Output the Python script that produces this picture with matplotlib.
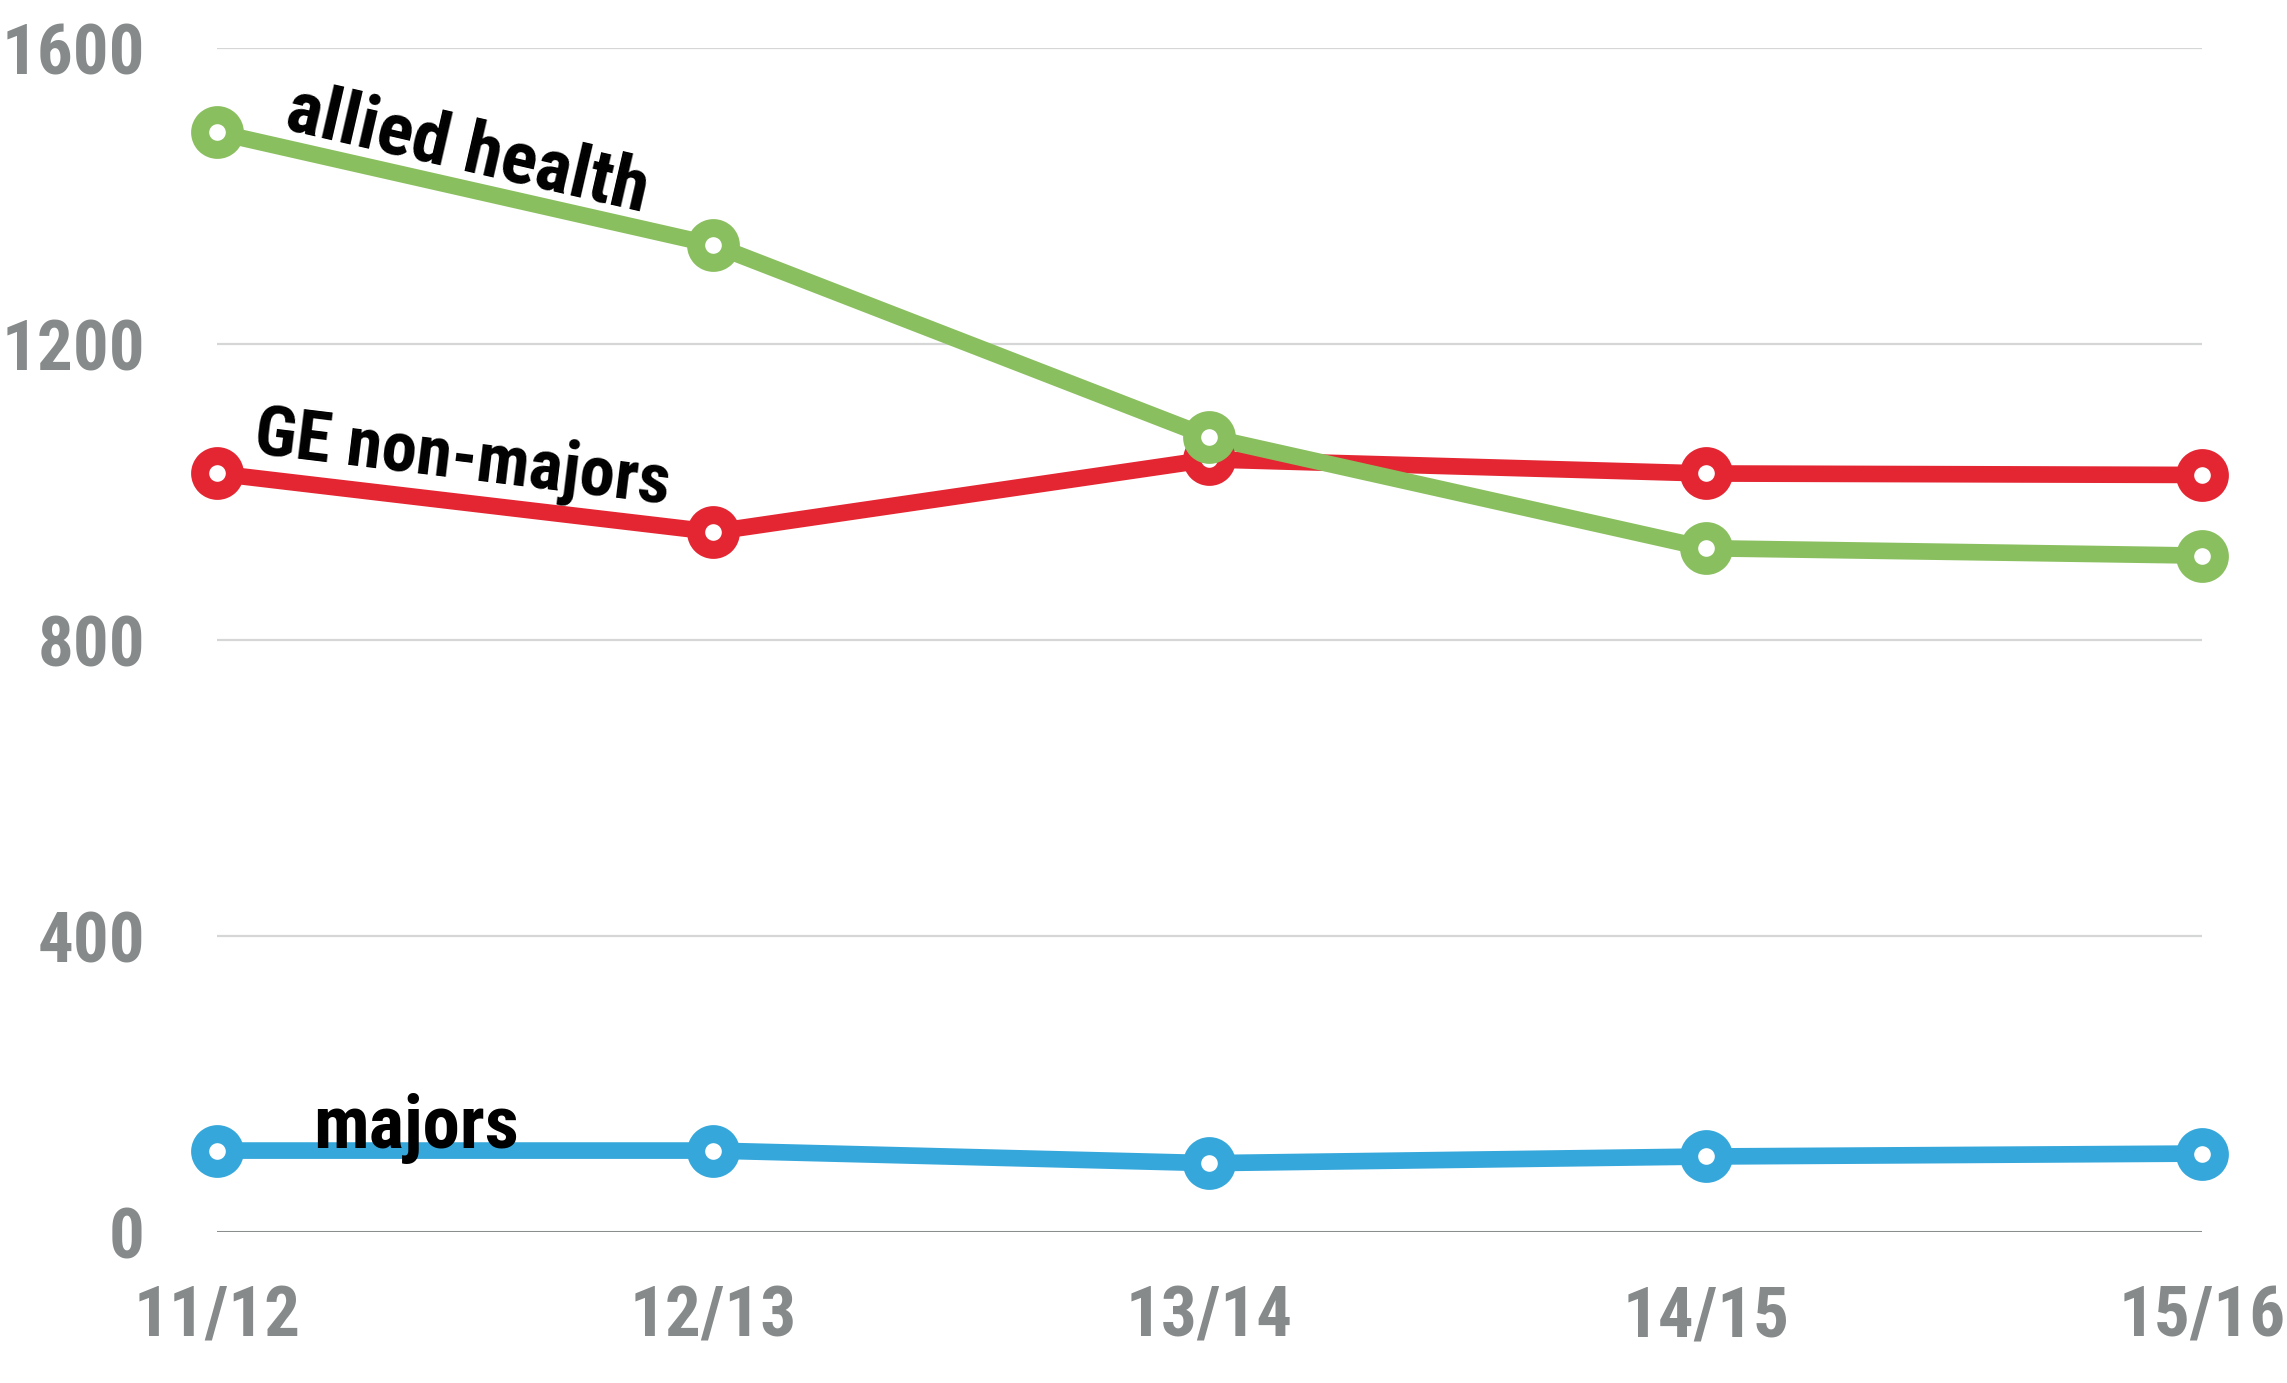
import matplotlib
matplotlib.use("Agg")
import matplotlib.pyplot as plt
from matplotlib import font_manager

years = ["11/12", "12/13", "13/14", "14/15", "15/16"]
allied_health = [1486, 1334, 1074, 924, 914]
ge_non_majors = [1025, 946, 1044, 1025, 1023]
majors = [110, 110, 93, 102, 106]
y_ticks = [0, 400, 800, 1200, 1600]

names = {f.name for f in font_manager.fontManager.ttflist}
fam = [n for n in ["Roboto Condensed", "Liberation Sans Narrow", "DejaVu Sans"] if n in names] or ["DejaVu Sans"]

GREEN = "#8abf5f"
RED = "#e32632"
BLUE = "#35a7db"
GRAY = "#868a8a"

fig = plt.figure(figsize=(22.87, 13.83), dpi=100)
ax = fig.add_axes([0.0949, 0.1092, 0.8679, 0.8561])

x = list(range(len(years)))
series = [(ge_non_majors, RED), (allied_health, GREEN), (majors, BLUE)]
for vals, col in series:
    ax.plot(x, vals, color=col, lw=12, solid_capstyle="butt", zorder=3, clip_on=False)
    ax.plot(x, vals, linestyle="none", marker="o", ms=25, mew=13,
            mec=col, mfc="white", zorder=4, clip_on=False)

ax.set_xlim(0, 4)
ax.set_ylim(0, 1600)
ax.set_yticks(y_ticks)
ax.set_xticks(x)
ax.set_xticklabels(years)
for s in ax.spines.values():
    s.set_visible(False)
for yv in y_ticks[1:]:
    ax.axhline(yv, color="#d5d7d7", lw=1.6, zorder=1)
ax.axhline(0, color="#8a8e8e", lw=2.2, zorder=1)
ax.tick_params(length=0, labelcolor=GRAY)
ax.tick_params(axis="y", pad=52)
ax.tick_params(axis="x", pad=37)
for lab in ax.get_xticklabels() + ax.get_yticklabels():
    lab.set_family(fam)
    lab.set_fontweight("bold")
    lab.set_fontsize(51)

tkw = dict(family=fam, fontweight="bold", color="black",
           ha="center", va="center", rotation_mode="anchor", zorder=5)
ax.text(0.505, 1462, "allied health", rotation=-13, fontsize=54, **tkw)
ax.text(0.495, 1044, "GE non-majors", rotation=-7, fontsize=51, **tkw)
ax.text(0.40, 140, "majors", rotation=0, fontsize=54, **tkw)

fig.savefig("out.png", dpi=100, facecolor="white")
